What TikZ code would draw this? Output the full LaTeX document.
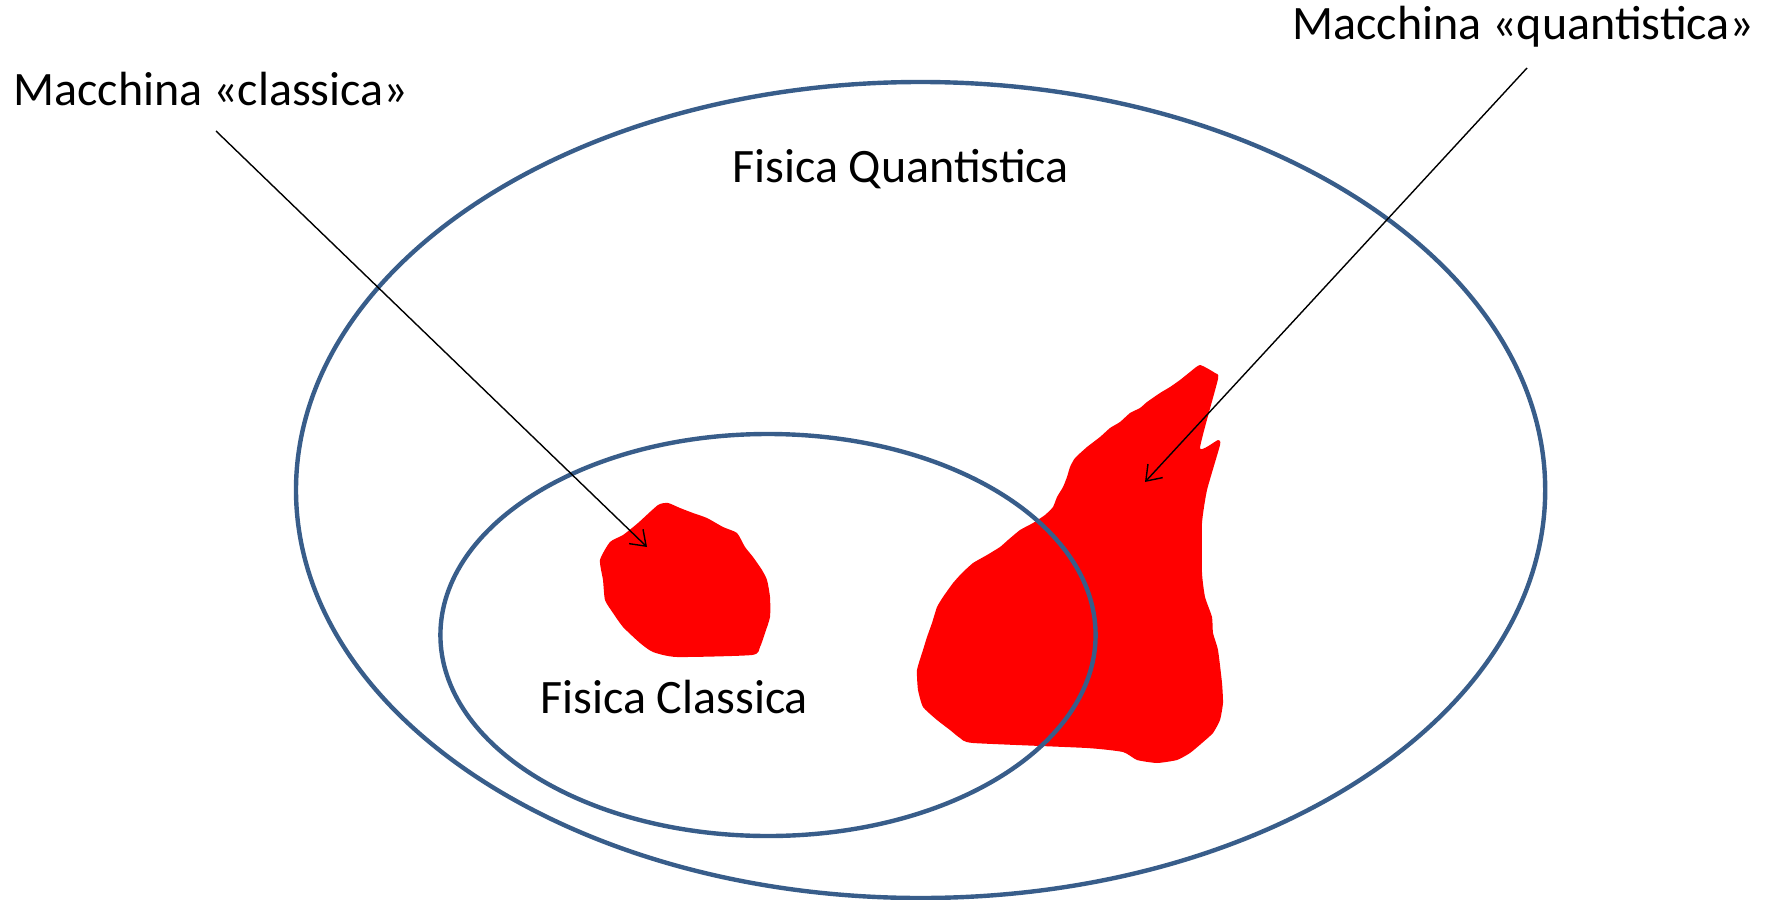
\documentclass[tikz,border=0pt]{standalone}
\usepackage{fontspec}
\setmainfont{Carlito}
\usetikzlibrary{arrows.meta}
\definecolor{setblue}{RGB}{56,93,138}
\definecolor{blobred}{RGB}{255,0,0}

\begin{document}
\begin{tikzpicture}[x=0.5pt, y=-0.5pt, font=\fontsize{24}{28}\selectfont,
  setline/.style={draw=setblue, line width=2.2pt},
  blob/.style={fill=blobred, draw=none},
  lbl/.style={anchor=base west, inner sep=0pt},
  pointer/.style={draw=black, line width=0.7pt, -{Straight Barb[length=7pt, width=10pt]}}]
\useasboundingbox (0,0) rectangle (1771,899);
% red regions
\fill[blob] plot[smooth cycle, tension=0.35] coordinates {
  (600,560) (610,542) (623,535) (638,523) (658,505) (668,503) (680,508) (693,513)
  (707,518) (723,527) (737,533) (745,547) (753,557) (762,570) (767,580) (770,597)
  (770,617) (765,633) (760,647) (752,655) (677,657) (653,652) (640,643) (623,627)
  (613,613) (605,600) (603,580)};
\fill[blob] plot[smooth cycle, tension=0.3] coordinates {
  (1200,365) (1215,373) (1218,379) (1200,448) (1218,440) (1220,445) (1207,490)
  (1202,523) (1202,573) (1205,597) (1212,617) (1213,633) (1218,650) (1222,683)
  (1223,703) (1220,720) (1213,733) (1202,743) (1190,753) (1177,760) (1157,763)
  (1137,760) (1123,752) (1087,748) (973,743) (960,738) (950,730) (937,720)
  (923,707) (918,690) (917,670) (923,650) (927,637) (932,623) (937,607) (943,597)
  (953,583) (962,573) (973,563) (987,555) (1000,547) (1008,540) (1020,530)
  (1033,523) (1045,515) (1053,507) (1057,497) (1063,487) (1067,477) (1070,467)
  (1075,458) (1087,447) (1100,437) (1110,428) (1120,422) (1130,413) (1140,408)
  (1147,402) (1160,393) (1170,387) (1180,380) (1190,372)};
% sets
\draw[setline] (920.6,490) ellipse [x radius=312.3pt, y radius=204pt];
\draw[setline] (768,635) ellipse [x radius=163.8pt, y radius=100.5pt];
\node[lbl] (qtitle) at (732,182) {Fisica Quantistica};
\node[lbl] (ctitle) at (540,713) {Fisica Classica};
% labels and pointers
\node[lbl] (clabel) at (13,105) {Macchina «classica»};
\node[lbl] (qlabel) at (1292,40) {Macchina «quantistica»};
\coordinate (cfrom) at (216,131);
\coordinate (cto) at (647,547);
\coordinate (qfrom) at (1527,68);
\coordinate (qto) at (1145,482);
\draw[pointer] (cfrom) -- (cto);
\draw[pointer] (qfrom) -- (qto);
\end{tikzpicture}
\end{document}
